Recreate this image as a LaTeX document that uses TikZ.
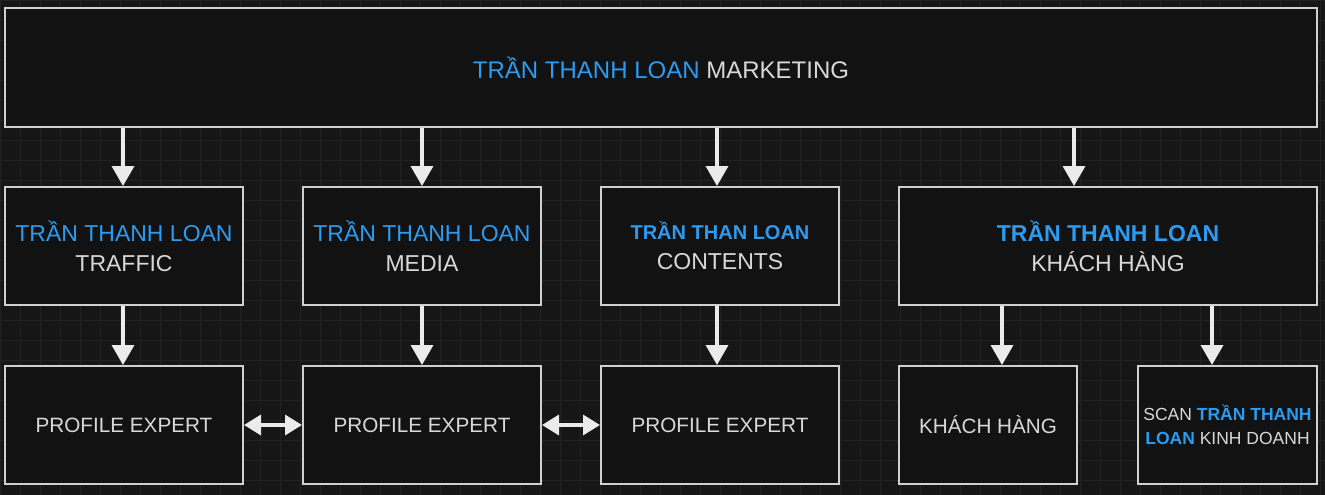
\documentclass[tikz,border=0pt]{standalone}
\usepackage{fontspec}
\setmainfont{Liberation Sans}
\usetikzlibrary{arrows.meta}
\definecolor{bg}{HTML}{161616}
\definecolor{boxf}{HTML}{121212}
\definecolor{bord}{HTML}{D0D0D0}
\definecolor{blu}{HTML}{2D9BF0}
\definecolor{txt}{HTML}{D8D8D8}
\definecolor{gridc}{HTML}{222222}
\newcommand{\bl}[1]{\textcolor{blu}{#1}}
\begin{document}
\begin{tikzpicture}[x=1pt,y=-1pt,
  bx/.style={draw=bord,line width=2pt,fill=boxf,text=txt,align=center,font=\fontsize{23}{30}\selectfont,inner sep=0pt},
  sm/.style={font=\fontsize{20.7}{26}\selectfont},
  arr/.style={draw=white!92!black,line width=3.5pt,-{Triangle[width=22pt,length=20pt]}},
  darr/.style={draw=white!92!black,line width=3.5pt,{Triangle[width=20pt,length=17pt]}-{Triangle[width=20pt,length=17pt]}}]
\fill[bg] (0,0) rectangle (1325,495);
\useasboundingbox (0,0) rectangle (1325,495);
\draw[gridc,step=20pt] (0,0) grid (1325,495);
\node[bx,minimum width=1312pt,minimum height=119pt,font=\fontsize{24}{30}\selectfont] (top) at (661,67.5) {\bl{TRẦN THANH LOAN} MARKETING};
\node[bx,minimum width=238pt,minimum height=118pt] (a) at (124,246) {\bl{TRẦN THANH LOAN}\\TRAFFIC};
\node[bx,minimum width=238pt,minimum height=118pt] (b) at (422,246) {\bl{TRẦN THANH LOAN}\\MEDIA};
\node[bx,minimum width=238pt,minimum height=118pt] (c) at (720,246) {\textbf{\fontsize{20}{26}\selectfont\bl{TRẦN THAN LOAN}}\\CONTENTS};
\node[bx,minimum width=418pt,minimum height=118pt] (d) at (1108,246) {\textbf{\bl{TRẦN THANH LOAN}}\\KHÁCH HÀNG};
\node[bx,sm,minimum width=238pt,minimum height=118pt] (a2) at (124,425) {PROFILE EXPERT};
\node[bx,sm,minimum width=238pt,minimum height=118pt] (b2) at (422,425) {PROFILE EXPERT};
\node[bx,sm,minimum width=238pt,minimum height=118pt] (c2) at (720,425) {PROFILE EXPERT};
\node[bx,sm,minimum width=178pt,minimum height=118pt] (d2) at (988,425) {KHÁCH HÀNG};
\node[bx,minimum width=179pt,minimum height=118pt,font=\fontsize{17.5}{24}\selectfont] (e2) at (1227.5,425) {SCAN \textbf{\bl{TRẦN THANH}}\\\textbf{\bl{LOAN}} KINH DOANH};
\draw[arr] (top.south -| 123,0) -- (a.north -| 123,0);
\draw[arr] (top.south -| 422,0) -- (b.north -| 422,0);
\draw[arr] (top.south -| 717,0) -- (c.north -| 717,0);
\draw[arr] (top.south -| 1074,0) -- (d.north -| 1074,0);
\draw[arr] (a.south -| 123,0) -- (a2.north -| 123,0);
\draw[arr] (b.south -| 422,0) -- (b2.north -| 422,0);
\draw[arr] (c.south -| 717,0) -- (c2.north -| 717,0);
\draw[arr] (d.south -| 1002,0) -- (d2.north -| 1002,0);
\draw[arr] (d.south -| 1212,0) -- (e2.north -| 1212,0);
\draw[darr] (a2.east) -- (b2.west);
\draw[darr] (b2.east) -- (c2.west);
\end{tikzpicture}
\end{document}
